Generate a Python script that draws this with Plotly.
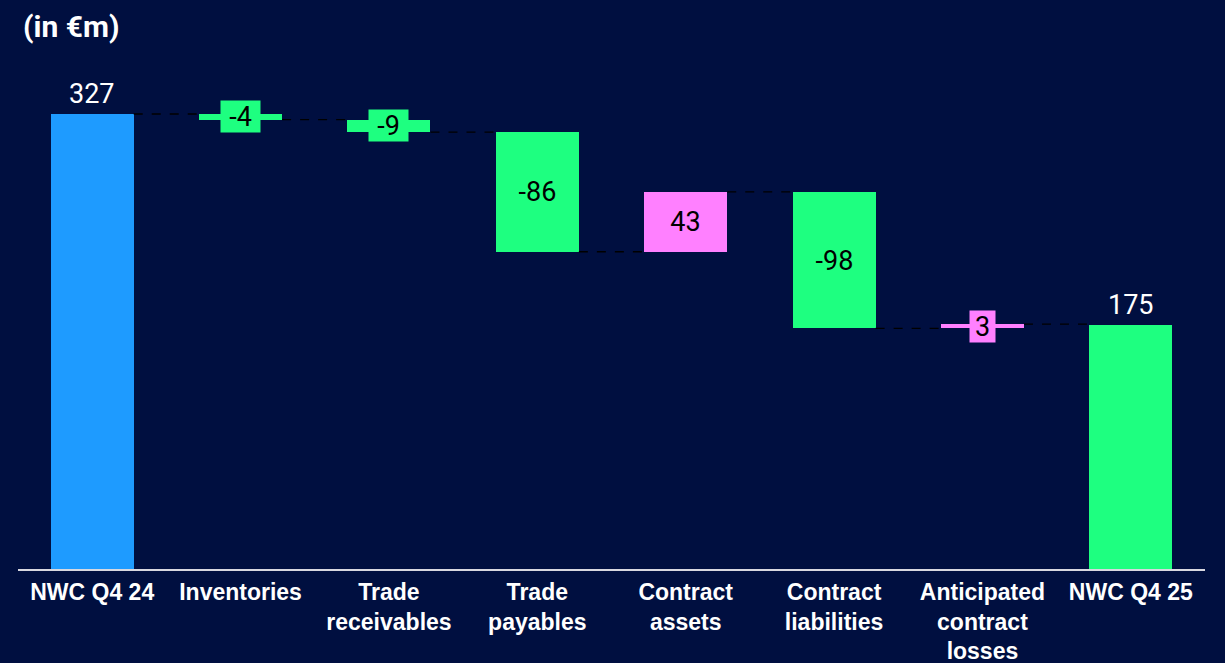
import plotly.graph_objects as go

categories = ["NWC Q4 24", "Inventories", "Trade<br>receivables", "Trade<br>payables",
              "Contract<br>assets", "Contract<br>liabilities", "Anticipated<br>contract<br>losses",
              "NWC Q4 25"]
values = [327, -4, -9, -86, 43, -98, 3, 175]
kinds = ["absolute", "relative", "relative", "relative", "relative", "relative", "relative", "absolute"]
labels = ["327", "-4", "-9", "-86", "43", "-98", "3", "175"]

BG = "#000F40"
BLUE = "#1E9BFF"
GREEN = "#1EFF80"
PINK = "#FF80FF"
W = 0.56
VFONT = 27

bases, heights, colors, ends = [], [], [], []
level = 0
for i, (v, k) in enumerate(zip(values, kinds)):
    if k == "absolute":
        bases.append(0)
        heights.append(v)
        level = v
        colors.append(BLUE if i == 0 else GREEN)
    else:
        bases.append(level)
        heights.append(v)
        level = level + v
        colors.append(GREEN if v < 0 else PINK)
    ends.append(level)

xs = list(range(len(categories)))
fig = go.Figure(go.Bar(x=xs, y=heights, base=bases, marker=dict(color=colors, line=dict(width=0)),
                       width=W, hoverinfo="skip"))

shapes = []
for i in range(len(xs) - 1):
    shapes.append(dict(type="line", xref="x", yref="y", x0=xs[i] + W / 2, x1=xs[i + 1] - W / 2,
                       y0=ends[i], y1=ends[i], line=dict(color="#000000", width=1.3, dash="dash")))

annotations = []
for i, (k, lab) in enumerate(zip(kinds, labels)):
    if k == "absolute":
        annotations.append(dict(x=xs[i], y=ends[i], xref="x", yref="y", text=lab, showarrow=False,
                                yanchor="bottom", yshift=2,
                                font=dict(color="white", size=VFONT, family="Roboto")))
    else:
        mid = bases[i] + heights[i] / 2
        annotations.append(dict(x=xs[i], y=mid, xref="x", yref="y", text=lab, showarrow=False,
                                bgcolor=colors[i], borderpad=1, width=14 * len(lab) + 9, height=29,
                                font=dict(color="black", size=VFONT, family="Roboto")))
annotations.append(dict(x=0, y=1, xref="paper", yref="paper", xanchor="left", yanchor="bottom",
                        xshift=3, yshift=14, text="<b>(in €m)</b>", showarrow=False,
                        font=dict(color="white", size=30, family="Roboto")))

fig.update_layout(
    width=1225, height=663,
    paper_bgcolor=BG, plot_bgcolor=BG,
    margin=dict(l=18, r=20, t=60, b=94),
    showlegend=False,
    shapes=shapes,
    annotations=annotations,
    bargap=0,
    xaxis=dict(tickmode="array", tickvals=xs, ticktext=["<b>" + c + "</b>" for c in categories],
               range=[-0.5, 7.5], showgrid=False, zeroline=False, showline=True,
               linecolor="#D8D8E0", linewidth=2, ticks="", automargin=False,
               ticklabelstandoff=1,
               tickfont=dict(color="white", size=23, family="Liberation Sans, Arial, sans-serif")),
    yaxis=dict(range=[0, 365.8], visible=False, showgrid=False, zeroline=False, automargin=False),
)

fig.write_html("out.html")
